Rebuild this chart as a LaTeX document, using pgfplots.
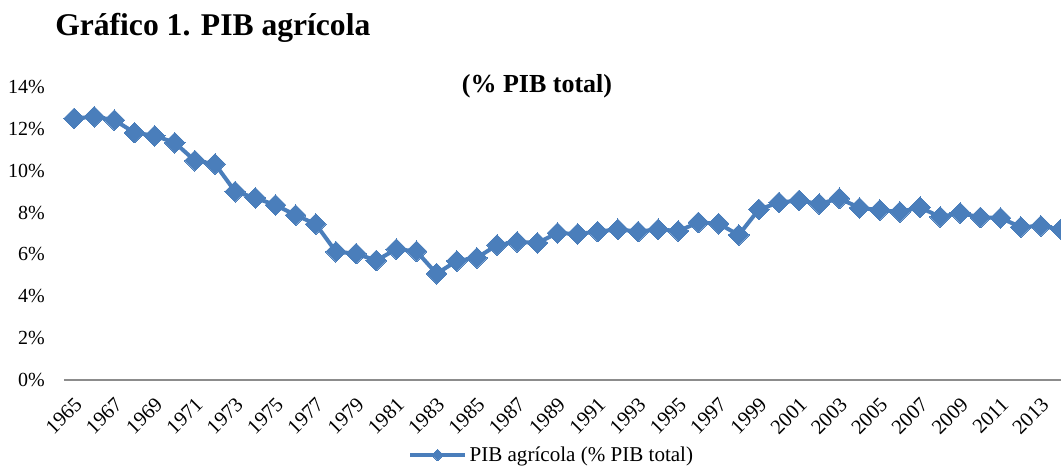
\documentclass[border=0pt]{standalone}
\usepackage{fontspec}
\setmainfont{Liberation Serif}
\usepackage{pgfplots}
\pgfplotsset{compat=1.18}
\definecolor{serie}{HTML}{4A7EBB}
\definecolor{ejegris}{HTML}{8C8C8C}
\begin{document}
\begin{tikzpicture}
\useasboundingbox (0,0) rectangle (795.75pt,351.75pt);
\node[anchor=base west, inner sep=0pt, font=\fontsize{23.7pt}{28pt}\selectfont\bfseries] at (41.25pt,324.75pt) {Gráfico 1. PIB agrícola};
\node[anchor=base, inner sep=0pt, font=\fontsize{19.5pt}{23pt}\selectfont\bfseries] at (402.75pt,282.75pt) {(\% PIB total)};
\begin{axis}[
  at={(48pt,66.75pt)}, anchor=south west,
  scale only axis, width=747.75pt, height=219.75pt,
  xmin=1964.5, xmax=2014, ymin=0, ymax=14,
  clip=false,
  axis lines=left,
  x axis line style={draw=ejegris, line width=1.1pt, -},
  y axis line style={draw=none},
  major tick length=0pt,
  xtick={1965,1967,...,2013},
  xticklabels={1965,1967,1969,1971,1973,1975,1977,1979,1981,1983,1985,1987,1989,1991,1993,1995,1997,1999,2001,2003,2005,2007,2009,2011,2013},
  ytick={0,2,...,14},
  yticklabels={0\%,2\%,4\%,6\%,8\%,10\%,12\%,14\%},
  xticklabel style={font=\fontsize{15.5pt}{18pt}\selectfont, xshift=-0.5pt, yshift=-12pt, rotate=45, anchor=north east, inner sep=0pt},
  yticklabel style={font=\fontsize{15pt}{18pt}\selectfont, anchor=east, inner sep=0pt, xshift=-14.25pt},
  legend style={at={(0.4895,-0.256)}, anchor=center, draw=none, fill=none, inner sep=0pt,
    font=\fontsize{15.8pt}{19pt}\selectfont},
  legend image code/.code={
    \draw[#1, mark=none] (0pt,0pt) -- (41pt,0pt);
    \draw[#1, mark size=3pt] plot coordinates {(20.5pt,0pt)};
  },
]
\addplot[color=serie, line width=3pt, mark=square*, mark size=5.5pt,
  mark options={rotate=45, line width=0pt, fill=serie, draw=serie}]
coordinates {
(1965,12.50) (1966,12.58) (1967,12.42) (1968,11.82) (1969,11.67)
(1970,11.34) (1971,10.48) (1972,10.32) (1973,9.00) (1974,8.70)
(1975,8.36) (1976,7.88) (1977,7.45) (1978,6.13) (1979,6.04)
(1980,5.71) (1981,6.25) (1982,6.15) (1983,5.08) (1984,5.69)
(1985,5.84) (1986,6.45) (1987,6.60) (1988,6.55) (1989,7.02)
(1990,6.98) (1991,7.09) (1992,7.20) (1993,7.09) (1994,7.20)
(1995,7.12) (1996,7.53) (1997,7.47) (1998,6.93) (1999,8.15)
(2000,8.48) (2001,8.58) (2002,8.41) (2003,8.68) (2004,8.22)
(2005,8.12) (2006,8.03) (2007,8.25) (2008,7.79) (2009,7.98)
(2010,7.77) (2011,7.74) (2012,7.31) (2013,7.36) (2014,7.20)
};
\addlegendentry{PIB agrícola (\% PIB total)}
\end{axis}
\end{tikzpicture}
\end{document}
